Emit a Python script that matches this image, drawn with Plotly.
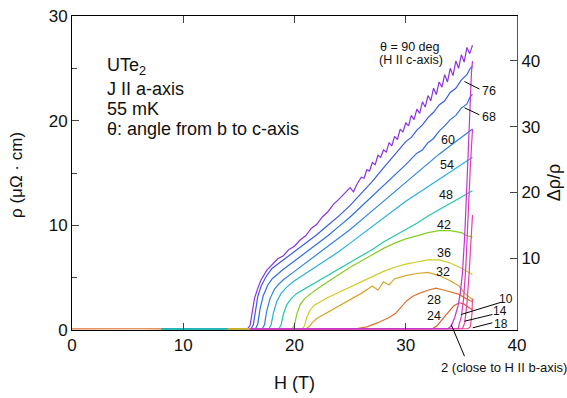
import plotly.graph_objects as go

# ---------------- data ----------------
H90 = [8, 10, 12, 14, 15.8, 16.0, 16.2, 16.4, 16.7, 17.0, 17.5, 18, 18.5, 19, 19.5, 20, 20.5, 21, 21.5, 22, 22.5, 23, 23.5, 24, 24.5, 25, 25.3, 25.6,
       26.0, 26.25, 26.5, 26.75, 27.0, 27.25, 27.5, 27.75, 28.0, 28.25, 28.5, 28.75, 29.0, 29.25, 29.5, 29.75, 30.0, 30.25, 30.5, 30.75,
       31.0, 31.25, 31.5, 31.75, 32.0, 32.25, 32.5, 32.75, 33.0, 33.25, 33.5, 33.75, 34.0, 34.25, 34.5, 34.75, 35.0, 35.25, 35.5, 35.75, 36.0]
R90 = [0.08, 0.1, 0.08, 0.1, 0.15, 0.4, 1.6, 3.0, 4.0, 4.8, 5.7, 6.3, 6.8, 7.1, 7.7, 8.0, 8.6, 9.0, 9.7, 10.1, 10.8, 11.3, 12.0, 12.5, 13.1, 13.6, 13.2, 13.9,
       14.6, 14.5, 15.3, 15.2, 16.0, 15.8, 16.7, 16.5, 17.2, 17.0, 17.9, 17.6, 18.5, 18.2, 19.2, 18.9, 19.8, 19.5, 20.5, 20.1,
       21.1, 20.7, 21.8, 21.3, 22.4, 21.9, 23.1, 22.5, 23.7, 23.2, 24.4, 23.7, 25.0, 24.3, 25.7, 25.0, 26.3, 25.6, 27.0, 26.4, 27.2]

H76 = [8, 11, 14, 16.1, 16.3, 16.5, 16.7, 17.0, 17.5, 18, 19, 20, 21, 22, 23, 24, 25, 26, 27, 28, 29, 30, 30.5, 31, 31.5, 32, 32.5, 33, 33.5, 34, 34.5, 35, 35.5, 35.8, 36.0]
R76 = [0.08, 0.1, 0.1, 0.12, 0.5, 2.0, 3.2, 4.2, 5.2, 5.9, 6.7, 7.5, 8.3, 9.1, 10.0, 10.9, 11.9, 13.0, 14.2, 15.5, 16.7, 18.0, 18.4, 19.1, 19.6, 20.3, 20.8, 21.5, 21.9, 22.7, 23.1, 23.9, 24.4, 25.0, 25.2]

H68 = [8, 11, 14, 16.5, 16.7, 16.9, 17.2, 17.6, 18, 19, 20, 21, 22, 23, 24, 25, 26, 27, 28, 29, 30, 31, 31.5, 32, 32.5, 33, 33.5, 34, 34.5, 35, 35.5, 35.8, 36.0]
R68 = [0.08, 0.1, 0.1, 0.12, 0.6, 2.0, 3.3, 4.3, 4.9, 5.8, 6.6, 7.4, 8.2, 9.0, 9.9, 10.8, 11.8, 12.8, 13.8, 14.8, 15.8, 16.9, 17.2, 17.9, 18.3, 19.0, 19.5, 20.1, 20.5, 21.2, 21.6, 22.3, 22.5]

H60 = [8, 11, 14, 17.1, 17.3, 17.5, 17.8, 18.2, 18.6, 19, 20, 21, 22, 23, 24, 25, 26, 27, 28, 29, 30, 31, 32, 33, 34, 35, 35.8, 36.0]
R60 = [0.08, 0.1, 0.1, 0.12, 0.5, 1.8, 3.0, 3.9, 4.4, 4.8, 5.6, 6.4, 7.2, 8.0, 8.8, 9.6, 10.5, 11.4, 12.3, 13.2, 14.1, 15.0, 15.9, 16.8, 17.6, 18.4, 19.0, 19.2]

H54 = [8, 11, 14, 17.7, 17.9, 18.1, 18.4, 18.8, 19.3, 20, 21, 22, 23, 24, 25, 26, 27, 28, 29, 30, 31, 32, 33, 34, 35, 35.8, 36.0]
R54 = [0.08, 0.1, 0.1, 0.12, 0.5, 1.6, 2.7, 3.5, 4.1, 4.7, 5.4, 6.1, 6.8, 7.5, 8.3, 9.1, 9.9, 10.7, 11.5, 12.3, 13.0, 13.7, 14.4, 15.1, 15.8, 16.3, 16.5]

H48 = [8, 11, 14, 18.6, 18.8, 19.0, 19.3, 19.7, 20.2, 21, 22, 23, 24, 25, 26, 27, 28, 29, 30, 31, 32, 33, 34, 35, 35.8, 36.0]
R48 = [0.08, 0.1, 0.1, 0.12, 0.5, 1.5, 2.4, 3.0, 3.5, 4.0, 4.6, 5.2, 5.8, 6.5, 7.1, 7.7, 8.4, 9.0, 9.6, 10.2, 10.9, 11.5, 12.1, 12.7, 13.2, 13.3]

H42 = [14, 17, 19.8, 20.0, 20.2, 20.5, 20.9, 21.5, 22, 23, 24, 25, 26, 27, 28, 29, 30, 31, 32, 33, 34, 35, 35.5, 36.0]
R42 = [0.1, 0.1, 0.12, 0.5, 1.5, 2.4, 3.0, 3.5, 3.9, 4.6, 5.3, 6.0, 6.6, 7.2, 7.8, 8.3, 8.7, 9.0, 9.3, 9.5, 9.5, 9.3, 9.0, 8.9]

H36 = [14, 17, 20.7, 20.9, 21.1, 21.4, 21.8, 22.5, 23, 24, 25, 26, 27, 28, 29, 30, 31, 32, 33, 34, 35, 35.5, 36.0]
R36 = [0.1, 0.1, 0.12, 0.4, 1.2, 1.9, 2.4, 2.8, 3.1, 3.6, 4.1, 4.6, 5.1, 5.6, 6.0, 6.3, 6.5, 6.7, 6.7, 6.4, 5.9, 5.6, 5.3]

H32 = [14, 17, 21, 21.3, 21.6, 22, 23, 24, 25, 26, 27, 27.5, 28, 28.5, 29, 30, 31, 32, 33, 34, 34.8, 35.3, 36.0]
R32 = [0.1, 0.1, 0.1, 0.3, 0.7, 1.1, 1.7, 2.3, 2.9, 3.5, 4.2, 3.8, 4.6, 4.3, 4.9, 5.2, 5.4, 5.5, 5.2, 4.7, 4.2, 3.5, 2.9]

H28 = [0, 2, 4, 6, 8, 11, 14, 17, 20, 23, 25.5, 26.5, 27.5, 28.5, 29.1, 29.6, 30.1, 30.6, 31.2, 32, 32.7, 33.5, 34.2, 34.8, 35.4, 36.0]
R28 = [0.1, 0.12, 0.1, 0.12, 0.1, 0.1, 0.1, 0.1, 0.1, 0.1, 0.12, 0.3, 0.7, 1.2, 1.6, 2.2, 2.8, 3.2, 3.5, 3.8, 4.0, 3.8, 3.6, 3.4, 3.0, 2.7]

H24 = [16, 20, 24, 28, 32.4, 32.8, 33.3, 33.8, 34.3, 34.8, 35.2, 35.6, 36.0]
R24 = [0.1, 0.1, 0.1, 0.1, 0.12, 0.4, 1.0, 1.7, 2.3, 2.6, 2.5, 2.2, 1.9]

H18 = [16, 20, 26, 32, 35.6, 35.8, 35.95, 36.0]
R18 = [0.1, 0.1, 0.12, 0.12, 0.12, 0.3, 1.5, 3.0]

H14 = [16, 20, 26, 32, 35.1, 35.3, 35.5, 35.7, 35.9, 36.0]
R14 = [0.1, 0.1, 0.12, 0.12, 0.12, 0.7, 2.5, 5.5, 9.0, 11.0]

H10 = [16, 20, 26, 32, 34.7, 35.0, 35.2, 35.4, 35.6, 35.8, 36.0]
R10 = [0.1, 0.1, 0.12, 0.12, 0.12, 1.3, 3.0, 6.0, 11.0, 15.5, 19.2]

H2 = [16, 20, 26, 32, 33.8, 34.1, 34.4, 34.7, 34.9, 35.1, 35.3, 35.5, 35.7, 35.9, 36.0]
R2 = [0.1, 0.1, 0.12, 0.12, 0.12, 0.4, 1.2, 2.3, 3.5, 5.5, 9.0, 14.0, 19.5, 24.5, 25.7]

angles = ["28", "90", "76", "68", "60", "54", "48", "42", "36", "32", "24", "18", "14", "10", "2"]
H_list = [H28, H90, H76, H68, H60, H54, H48, H42, H36, H32, H24, H18, H14, H10, H2]
R_list = [R28, R90, R76, R68, R60, R54, R48, R42, R36, R32, R24, R18, R14, R10, R2]
colors = ["#e07430", "#8a34e0", "#3a5ce0", "#306ee0", "#2e82dc", "#26b0dc", "#22c8a4", "#86cc22",
          "#cccc22", "#d8a428", "#e05a28", "#ec4c8c", "#e442a8", "#d83cc0", "#c434d4"]

x_ticks = [0, 10, 20, 30, 40]
y_ticks = [0, 10, 20, 30]
y2_ticks = [10, 20, 30, 40]

# ---------------- figure ----------------
fig = go.Figure()
for a, hh, rr, c in zip(angles, H_list, R_list, colors):
    fig.add_trace(go.Scatter(x=hh, y=rr, mode="lines", name=a,
                             line=dict(color=c, width=1.2), showlegend=False))
# invisible trace to activate right axis
fig.add_trace(go.Scatter(x=[0], y=[0], yaxis="y2", mode="markers",
                         marker=dict(opacity=0), showlegend=False, hoverinfo="skip"))

FONT = "Liberation Sans, Arial, sans-serif"
fig.update_layout(
    width=567, height=398,
    margin=dict(l=72, r=49.5, t=16, b=67.5, autoexpand=False),
    plot_bgcolor="white", paper_bgcolor="white",
    font=dict(family=FONT, size=17, color="#111"),
    xaxis=dict(range=[0, 40], tickvals=x_ticks, ticks="inside", ticklen=7,
               showline=True, linecolor="black", linewidth=1, mirror="ticks",
               showgrid=False, zeroline=False, tickfont=dict(size=17), automargin=False),
    yaxis=dict(range=[0, 30], tickvals=y_ticks, ticks="inside", ticklen=7,
               showline=True, linecolor="black", linewidth=1, mirror=True,
               showgrid=False, zeroline=False, tickfont=dict(size=17), automargin=False,
               minor=dict(ticks="inside", ticklen=5, dtick=5, tick0=0, showgrid=False)),
    yaxis2=dict(range=[-0.9, 46.8], overlaying="y", side="right", tickvals=y2_ticks,
                ticks="inside", ticklen=7, showline=True, linecolor="#555", linewidth=1,
                showgrid=False, zeroline=False, tickfont=dict(size=17), automargin=False),
)

def px(h):
    return h / 40.0

def py(r):
    return r / 30.0

ann = []
def text(x, y, s, size=12.5, xanchor="center"):
    ann.append(dict(x=px(x), y=py(y), xref="paper", yref="paper", text=s, showarrow=False,
                    font=dict(size=size, family=FONT, color="#111"), xanchor=xanchor,
                    yanchor="middle"))

text(30.3, 27.0, "θ = 90 deg")
text(30.5, 25.75, "(H II c-axis)")
text(37.5, 22.85, "76")
text(37.5, 20.37, "68")
text(33.84, 18.18, "60")
text(33.75, 15.79, "54")
text(33.66, 12.93, "48")
text(33.48, 10.07, "42")
text(33.48, 7.39, "36")
text(33.39, 5.58, "32")
text(32.5, 2.91, "28")
text(32.5, 1.29, "24")
text(39.05, 3.0, "10", size=12)
text(38.45, 1.85, "14", size=12)
text(38.6, 0.55, "18", size=12)
text(33.0, -3.58, "2 (close to H II b-axis)", size=13, xanchor="left")

# sample legend text block
text(3.0, 25.2, "UTe<sub>2</sub>", size=18, xanchor="left")
text(3.0, 23.05, "J II a-axis", size=18, xanchor="left")
text(3.0, 21.15, "55 mK", size=18, xanchor="left")
text(3.0, 19.25, "θ: angle from b to c-axis", size=18, xanchor="left")

# axis titles
ann.append(dict(x=0.5, y=-0.17, xref="paper", yref="paper", text="H (T)", showarrow=False,
                font=dict(size=18, family=FONT, color="#111"), xanchor="center", yanchor="middle"))
ann.append(dict(x=-0.125, y=0.495, xref="paper", yref="paper", text="ρ (μΩ · cm)", showarrow=False,
                textangle=-90, font=dict(size=17, family=FONT, color="#111"), xanchor="center", yanchor="middle"))
ann.append(dict(x=1.085, y=0.47, xref="paper", yref="paper", text="Δρ/ρ", showarrow=False,
                textangle=-90, font=dict(size=18, family=FONT, color="#111"), xanchor="center", yanchor="middle"))
fig.update_layout(annotations=ann)

# leader lines
leaders = [
    ((35.28, 23.74), (36.62, 23.02)),
    ((35.28, 21.23), (36.62, 20.56)),
    ((34.98, 1.48), (38.57, 2.65)),
    ((35.28, 0.84), (37.79, 1.48)),
    ((36.02, 0.21), (37.79, 0.69)),
    ((34.08, 0.52), (35.28, -2.5)),
]
for (x0, y0), (x1, y1) in leaders:
    fig.add_shape(type="line", xref="paper", yref="paper", x0=px(x0), y0=py(y0),
                  x1=px(x1), y1=py(y1), line=dict(color="black", width=1))

fig.write_html("out.html", config={"displayModeBar": False},
               post_script="document.body.style.margin='0px';document.body.style.overflow='hidden';")
